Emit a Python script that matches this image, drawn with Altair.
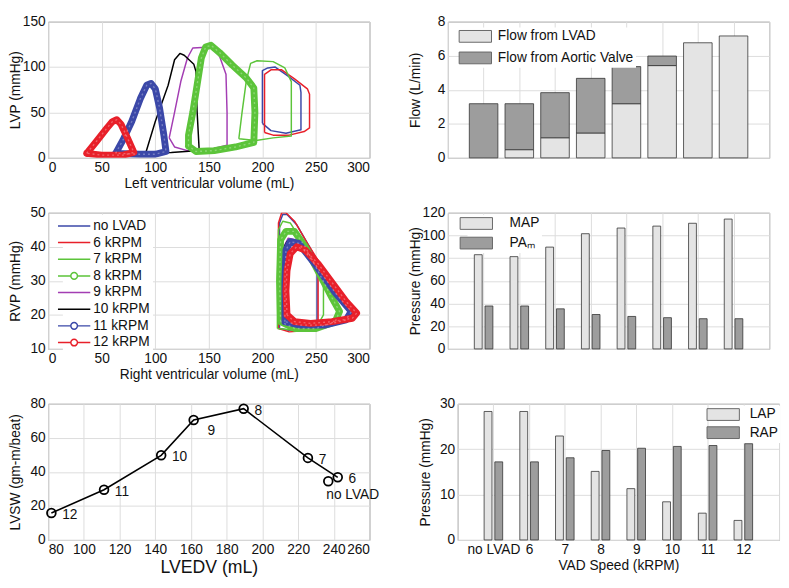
import json
import altair as alt
import pandas as pd

FONT = "Liberation Sans"
W, H = 328, 139

# ---------------- PV loop data ----------------
series = ["no LVAD", "6 kRPM", "7 kRPM", "8 kRPM", "9 kRPM", "10 kRPM", "11 kRPM", "12 kRPM"]
series_colors = ["#3b48a8", "#e8202a", "#5cc43a", "#5cc43a", "#a33db3", "#000000", "#3b48a8", "#e8202a"]
marker_series = ["8 kRPM", "11 kRPM", "12 kRPM"]

lv_vol = {
    "no LVAD": [200, 200, 200, 205, 212, 224, 235, 236, 236, 236, 222, 208, 200],
    "6 kRPM": [202, 202, 202, 208, 218, 230, 242, 244, 244, 239, 225, 210, 202],
    "7 kRPM": [178, 181, 185, 189, 195, 210, 221, 227, 227, 227, 210, 194, 178],
    "8 kRPM": [131, 131, 135, 139, 143, 147, 152, 160, 172, 185, 192, 193, 192, 175, 155, 138, 131],
    "9 kRPM": [113, 118, 124, 130, 135, 152, 160, 166, 167, 167, 150, 130, 118, 113],
    "10 kRPM": [91, 100, 112, 118, 123, 127, 136, 138, 139, 141, 115, 91],
    "11 kRPM": [63, 70, 78, 86, 92, 96, 100, 104, 108, 110, 100, 85, 63],
    "12 kRPM": [36, 45, 55, 60, 64, 68, 74, 80, 70, 50, 36],
}
lv_prs = {
    "no LVAD": [38, 70, 96, 99, 100, 90, 80, 72, 50, 31, 27, 30, 38],
    "6 kRPM": [28, 60, 92, 97, 97, 87, 76, 70, 33, 29, 25, 25, 28],
    "7 kRPM": [21, 50, 85, 104, 107, 106, 99, 84, 50, 24, 22, 19, 21],
    "8 kRPM": [13, 25, 50, 80, 110, 122, 124, 116, 102, 88, 77, 50, 17, 12, 8, 7, 13],
    "9 kRPM": [22, 50, 85, 110, 121, 122, 112, 92, 50, 14, 9, 8, 12, 22],
    "10 kRPM": [5, 40, 80, 108, 115, 113, 103, 95, 52, 8, 6, 5],
    "11 kRPM": [5, 20, 40, 65, 80, 82, 76, 55, 25, 7, 4, 4, 5],
    "12 kRPM": [5, 18, 33, 40, 42, 37, 22, 6, 3, 3, 5],
}
rv_vol = {
    "no LVAD": [216, 216, 216, 219, 223, 232, 244, 251, 251, 244, 225, 216],
    "6 kRPM": [215, 215, 215, 218, 222, 230, 242, 252, 252, 252, 245, 225, 215],
    "7 kRPM": [214, 214, 215, 219, 226, 240, 252, 257, 257, 250, 230, 214],
    "8 kRPM": [217, 216, 217, 222, 230, 240, 255, 265, 272, 268, 250, 230, 217],
    "9 kRPM": [219, 219, 220, 224, 232, 245, 262, 275, 282, 278, 260, 235, 219],
    "10 kRPM": [218, 218, 219, 223, 232, 248, 265, 282, 276, 255, 232, 218],
    "11 kRPM": [221, 221, 222, 226, 234, 250, 268, 283, 278, 258, 235, 221],
    "12 kRPM": [223, 222, 223, 226, 232, 240, 252, 265, 278, 288, 284, 265, 245, 230, 223],
}
rv_prs = {
    "no LVAD": [16, 30, 47, 49.5, 49.5, 46.5, 40, 36, 18, 16, 15.5, 16],
    "6 kRPM": [16, 30, 47, 50, 50, 47.5, 41, 36, 25, 18, 15.5, 15, 16],
    "7 kRPM": [16, 30, 45, 47.5, 47, 40, 33, 28.5, 20, 16, 15.5, 16],
    "8 kRPM": [18, 30, 42, 44.5, 44.5, 40, 31, 25, 21, 18, 16, 16, 18],
    "9 kRPM": [18, 30, 40, 42.5, 42, 36, 29, 24, 21, 18.5, 17, 17, 18],
    "10 kRPM": [18, 30, 39, 41.5, 41, 35, 27.5, 21, 18.5, 17, 17, 18],
    "11 kRPM": [18, 30, 39, 41.5, 41, 34.5, 26.5, 21, 18.5, 17, 17, 18],
    "12 kRPM": [20, 27, 33, 38, 40, 39, 35, 29.5, 24, 20.5, 19, 18, 17.5, 18, 20],
}

# ---------------- bar data ----------------
speeds = ["no LVAD", "6", "7", "8", "9", "10", "11", "12"]
flow_lvad = [0, 0.48, 1.18, 1.46, 3.18, 5.42, 6.76, 7.16]
flow_aortic = [3.18, 2.70, 2.65, 3.21, 2.18, 0.56, 0, 0]
map_vals = [83, 81.3, 89.7, 101.5, 106.5, 108.2, 110.7, 114.4]
pam_vals = [37.8, 37.8, 35.3, 30.3, 28.6, 27.5, 26.6, 26.6]
lap_vals = [28.3, 28.3, 22.9, 15.1, 11.3, 8.4, 5.9, 4.3]
rap_vals = [17.2, 17.2, 18.1, 19.7, 20.2, 20.6, 20.8, 21.2]

# ---------------- LVSW vs LVEDV ----------------
sw_labels = ["12", "11", "10", "9", "8", "7", "6", "no LVAD"]
lvedv = [81.8, 111.3, 143.3, 161.5, 189.5, 225.5, 242.2, 236.9]
lvsw = [15.8, 29.5, 49.7, 70.5, 77.1, 48.2, 36.8, 34.5]

DOT_FILL = "#e4e4e4"
HATCH_FILL = "#9d9d9d"
BAR_STROKE = "#333333"

# legend symbol paths (unit = half of sqrt(symbolSize))
LINE = "M-2.2,0H2.2"
LINE_O = "M-2.2,0H-0.45A0.45,0.45,0,1,1,0.45,0A0.45,0.45,0,1,1,-0.45,0M0.45,0H2.2"
series_shapes = [LINE_O if s in marker_series else LINE for s in series]
RECT = "M-3.3,-1.2H3.3V1.2H-3.3Z"


def indep(ch):
    return ch.resolve_scale(color="independent", shape="independent").resolve_legend(
        color="independent", shape="independent")


def loop_panel(vol, prs, xtitle, ytitle, ydomain, yvalues, with_legend):
    rows = []
    for s in series:
        for i, (v, p) in enumerate(zip(vol[s], prs[s])):
            rows.append({"series": s, "i": i, "v": v, "p": p})
    df = pd.DataFrame(rows)
    base = alt.Chart(df)
    x = alt.X("v:Q", scale=alt.Scale(domain=[0, 300], nice=False),
              axis=alt.Axis(values=list(range(0, 301, 50)), title=xtitle))
    y = alt.Y("p:Q", scale=alt.Scale(domain=ydomain, nice=False, zero=False),
              axis=alt.Axis(values=yvalues, title=ytitle))
    cscale = alt.Scale(domain=series, range=series_colors)
    marker_json = json.dumps(marker_series)
    layers = []
    if with_legend:
        leg = alt.Legend(title=None, orient="none", legendX=15, legendY=2, padding=3,
                         fillColor="white", symbolSize=225, symbolStrokeWidth=1.5,
                         labelFontSize=14, labelOffset=11, rowPadding=1)
        legend_layer = base.transform_filter("false").mark_point(filled=False, opacity=1).encode(
            x=x, y=y,
            color=alt.Color("series:N", scale=cscale, legend=leg),
            shape=alt.Shape("series:N", scale=alt.Scale(domain=series, range=series_shapes), legend=leg))
        layers.append(legend_layer)
    thin = base.transform_filter(f"indexof({marker_json}, datum.series) < 0").mark_line(
        strokeWidth=1.5, clip=True, strokeJoin="round").encode(
        x=x, y=y, color=alt.Color("series:N", scale=cscale, legend=None),
        detail="series:N", order="i:Q")
    thick = base.transform_filter(f"indexof({marker_json}, datum.series) >= 0").mark_line(
        strokeWidth=7, clip=True, strokeJoin="round", strokeCap="round").encode(
        x=x, y=y, color=alt.Color("series:N", scale=cscale, legend=None),
        detail="series:N", order="i:Q")
    holes = base.transform_filter(f"indexof({marker_json}, datum.series) >= 0").mark_line(
        strokeWidth=1.4, clip=True, color="white", opacity=0.3, strokeDash=[2, 3]).encode(
        x=x, y=y, detail="series:N", order="i:Q")
    layers += [thin, thick, holes]
    return alt.layer(*layers).properties(width=W, height=H)


def bar_panel(rows, names, fills, ydomain, yvalues, ytitle, legend, xaxis):
    df = pd.DataFrame(rows)
    return alt.Chart(df).mark_bar(stroke=BAR_STROKE, strokeWidth=0.8).encode(
        x=alt.X("x0:Q", scale=alt.Scale(domain=[0, 9], nice=False), axis=xaxis),
        x2="x1:Q",
        y=alt.Y("hi:Q", scale=alt.Scale(domain=ydomain, nice=False),
                axis=alt.Axis(values=yvalues, title=ytitle)),
        y2="lo:Q",
        color=alt.Color("series:N", scale=alt.Scale(domain=names, range=fills), legend=legend),
    ).properties(width=W, height=H)


no_label_x = alt.Axis(values=list(range(0, 10)), labels=False, title=None)
speed_expr = ("datum.value >= 1 && datum.value <= 8 ? " + json.dumps(speeds)
              + "[datum.value - 1] : ''")
speed_x = alt.Axis(values=list(range(0, 10)), labelExpr=speed_expr, title="VAD Speed (kRPM)")

# stacked flow rows
flow_names = ["Flow from LVAD", "Flow from Aortic Valve"]
flow_rows = []
for i, (a, b) in enumerate(zip(flow_lvad, flow_aortic), start=1):
    if a > 0:
        flow_rows.append({"series": flow_names[0], "x0": i - 0.4, "x1": i + 0.4, "lo": 0, "hi": a})
    if b > 0:
        flow_rows.append({"series": flow_names[1], "x0": i - 0.4, "x1": i + 0.4, "lo": a, "hi": a + b})


def grouped_rows(names, v1, v2):
    out = []
    for i, (a, b) in enumerate(zip(v1, v2), start=1):
        out.append({"series": names[0], "x0": i - 0.26, "x1": i - 0.04, "lo": 0, "hi": a})
        out.append({"series": names[1], "x0": i + 0.04, "x1": i + 0.26, "lo": 0, "hi": b})
    return out


pres_names = ["MAP", "PA\u2098"]
atr_names = ["LAP", "RAP"]


def bar_legend(lx, ly, label_offset, row_pad):
    return alt.Legend(title=None, orient="none", legendX=lx, legendY=ly, padding=2,
                      fillColor="white", symbolType=RECT, symbolSize=100,
                      symbolStrokeColor="#666", symbolStrokeWidth=1, labelFontSize=14,
                      labelOffset=label_offset, rowPadding=row_pad)


flow_chart = bar_panel(flow_rows, flow_names, [DOT_FILL, HATCH_FILL], [0, 8], [0, 2, 4, 6, 8],
                       "Flow (L/min)", bar_legend(19, 6, 16, 6), no_label_x)
pres_chart = bar_panel(grouped_rows(pres_names, map_vals, pam_vals), pres_names,
                       [DOT_FILL, HATCH_FILL], [0, 120], list(range(0, 121, 20)),
                       "Pressure (mmHg)", bar_legend(20, 2, 27, 4), no_label_x)
atr_chart = bar_panel(grouped_rows(atr_names, lap_vals, rap_vals), atr_names,
                      [DOT_FILL, HATCH_FILL], [0, 30], [0, 10, 20, 30],
                      "Pressure (mmHg)", bar_legend(262, 2, 20, 2.5), speed_x)

lv_chart = loop_panel(lv_vol, lv_prs, "Left ventricular volume (mL)", "LVP (mmHg)",
                      [0, 150], [0, 50, 100, 150], False)
rv_chart = loop_panel(rv_vol, rv_prs, "Right ventricular volume (mL)", "RVP (mmHg)",
                      [10, 50], [10, 20, 30, 40, 50], True)

# LVSW panel
sw_df = pd.DataFrame({"label": sw_labels, "edv": lvedv, "sw": lvsw, "k": list(range(len(sw_labels)))})
sw_base = alt.Chart(sw_df)
sx = alt.X("edv:Q", scale=alt.Scale(domain=[80, 260], nice=False),
           axis=alt.Axis(values=list(range(80, 261, 20)), title="LVEDV (mL)", titleFontSize=18))
sy = alt.Y("sw:Q", scale=alt.Scale(domain=[0, 80], nice=False),
           axis=alt.Axis(values=[0, 20, 40, 60, 80], title="LVSW (gm-m/beat)"))
sw_line = sw_base.transform_filter("datum.label != 'no LVAD'").mark_line(
    color="black", strokeWidth=1.6).encode(x=sx, y=sy, order="k:Q")
sw_pts = sw_base.mark_point(shape="circle", filled=False, color="black", size=80,
                            strokeWidth=1.8, opacity=1).encode(x=sx, y=sy)
sw_txt = sw_base.transform_filter("datum.label != 'no LVAD' && datum.label != '9'").mark_text(
    align="left", baseline="middle", dx=11, dy=2, fontSize=14, font=FONT, color="#111").encode(
    x=sx, y=sy, text="label:N")
sw_txt9 = sw_base.transform_filter("datum.label == '9'").mark_text(
    align="left", baseline="middle", dx=14, dy=11, fontSize=14, font=FONT, color="#111").encode(
    x=sx, y=sy, text="label:N")
sw_txt0 = sw_base.transform_filter("datum.label == 'no LVAD'").mark_text(
    align="left", baseline="middle", dx=-2, dy=14, fontSize=14, font=FONT, color="#111").encode(
    x=sx, y=sy, text="label:N")
sw_chart = alt.layer(sw_line, sw_pts, sw_txt, sw_txt9, sw_txt0).properties(width=W, height=H)

chart = indep(alt.vconcat(
    indep(alt.hconcat(lv_chart, flow_chart, spacing=38)),
    indep(alt.hconcat(rv_chart, pres_chart, spacing=38)),
    indep(alt.hconcat(sw_chart, atr_chart, spacing=38)),
    spacing=14,
)).properties(padding=0).configure(font=FONT).configure_axis(
    labelFont=FONT, labelFontSize=14, labelColor="#111", titleFont=FONT, titleFontSize=14,
    titleFontWeight="normal", titleColor="#111", grid=True, gridColor="#dcdcdc", gridWidth=1,
    ticks=False, domain=False, labelPadding=3, titlePadding=2,
).configure_axisY(minExtent=25, maxExtent=25, titlePadding=1).configure_view(
    stroke="#8a8a8a", strokeWidth=1
).configure_legend(labelFont=FONT, labelFontSize=14, labelColor="#111")

chart.save("out.html", embed_options={"renderer": "svg", "actions": False})
